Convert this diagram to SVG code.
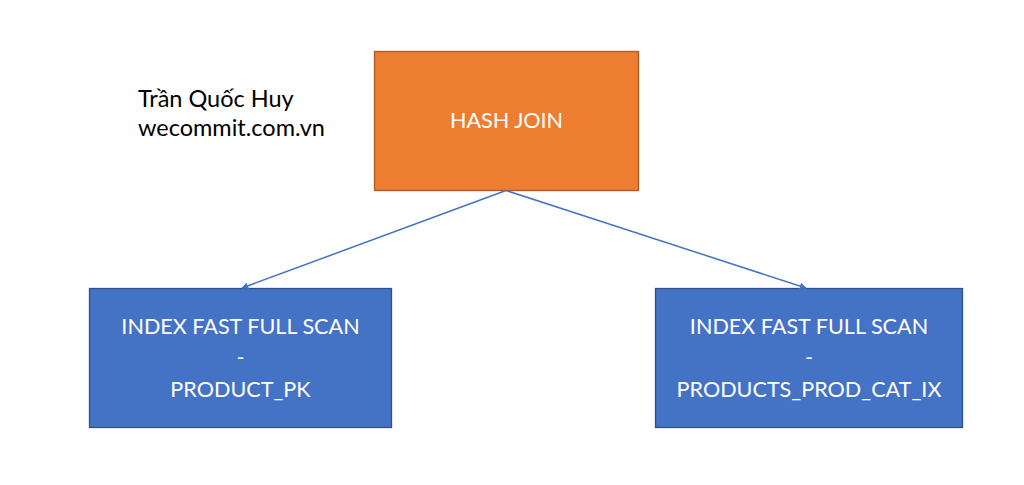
<svg xmlns="http://www.w3.org/2000/svg" width="1024" height="485" viewBox="0 0 1024 485">
<style>
.t{font-family:Lato,"Liberation Sans",sans-serif;font-size:21.6px;fill:#ffffff;text-anchor:middle}
.a{font-family:Lato,"Liberation Sans","Noto Sans",sans-serif;font-size:23.5px;fill:#000000}
.orange{fill:#ED7D31;stroke:#AE5A21;stroke-width:1.3}
.blue{fill:#4472C4;stroke:#2F528F;stroke-width:1.3}
.c{stroke:#4472C4;stroke-width:1.5;fill:none}
</style>
<defs>
<marker id="ah" viewBox="0 0 10 10" refX="9" refY="5" markerWidth="7" markerHeight="7" orient="auto" markerUnits="userSpaceOnUse">
<path d="M0,0 L10,5 L0,10 z" fill="#4472C4"/>
</marker>
</defs>
<rect width="1024" height="485" fill="#ffffff"/>
<g id="author">
<text class="a" x="138" y="107">Trần Quốc Huy</text>
<text class="a" x="138" y="136">wecommit.com.vn</text>
</g>
<g id="hash-join">
<rect class="orange" x="374.5" y="51.5" width="264" height="139"/>
<text class="t" x="506.5" y="128">HASH JOIN</text>
</g>
<g id="product-pk">
<rect class="blue" x="89.5" y="288.5" width="302" height="139"/>
<text class="t" x="240.5" y="334">INDEX FAST FULL SCAN</text>
<text class="t" x="240.5" y="365">-</text>
<text class="t" x="240.5" y="397">PRODUCT_PK</text>
</g>
<g id="products-prod-cat-ix">
<rect class="blue" x="655.5" y="288.5" width="307" height="139"/>
<text class="t" x="809" y="334">INDEX FAST FULL SCAN</text>
<text class="t" x="809" y="365">-</text>
<text class="t" x="809" y="397">PRODUCTS_PROD_CAT_IX</text>
</g>
<g id="connectors">
<line class="c" x1="506" y1="190.5" x2="242" y2="288" marker-end="url(#ah)"/>
<line class="c" x1="506" y1="190.5" x2="806" y2="288" marker-end="url(#ah)"/>
</g>
</svg>
